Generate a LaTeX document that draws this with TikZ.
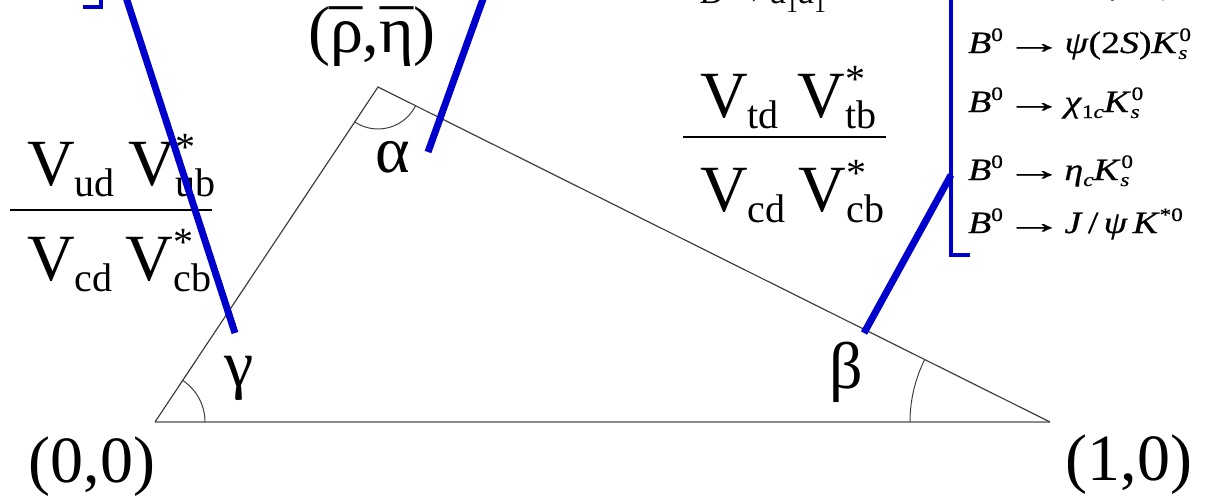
\documentclass[tikz,border=0pt]{standalone}
\usepackage{fontspec}
\setmainfont{Liberation Serif}
\newfontfamily\decayfont{Liberation Serif}[FakeStretch=1.22,FakeBold=0.6]
\definecolor{ckmblue}{RGB}{0,0,205}
% big labels: sub/superscripts
\newcommand{\bsub}[1]{\raisebox{-11pt}{\fontsize{40}{40}\selectfont #1}}
\newcommand{\bsup}[1]{\raisebox{25pt}{\fontsize{40}{40}\selectfont #1}}
\newcommand{\Vsub}[1]{V\bsub{#1}}
\newcommand{\Vstar}[1]{V\rlap{\bsup{*}}\bsub{#1}}
% decay list: sub/superscripts
\newcommand{\dsub}[1]{\raisebox{-6pt}{\fontsize{19}{19}\selectfont #1}}
\newcommand{\dsup}[1]{\raisebox{12pt}{\fontsize{19}{19}\selectfont #1}}
\newcommand{\Kzero}{\textit{K}\rlap{\hspace{1pt}\dsup{0}}\dsub{\textit{s}}}
\newcommand{\Bto}{\textit{B}\dsup{0}\hspace{2pt}\scalebox{1.55}[1]{→}\hspace{1pt}}
\newcommand{\macr}[1]{\ooalign{#1\cr\hidewidth\raisebox{-0.05em}{¯}\hidewidth\cr}}
\begin{document}
\begin{tikzpicture}[x=1pt,y=-1pt,
  big/.style={font=\fontsize{66}{70}\selectfont,inner sep=0pt},
  decay/.style={font=\decayfont\fontsize{31}{34}\selectfont,anchor=base west,inner sep=0pt},
  side/.style={draw=black!75,line width=1.2pt},
  ang/.style={draw=black!75,line width=1pt},
  wire/.style={draw=ckmblue,line width=7pt},
  brk/.style={draw=ckmblue,line width=3.5pt}]
  \clip (0,0) rectangle (1208,501);
  % unitarity triangle
  \coordinate (O) at (155,422);
  \coordinate (P) at (1050,422);
  \coordinate (A) at (378,87);
  \draw[draw=black!45,line width=1.8pt] (O) -- (P);
  \draw[side] (P) -- (A) -- (O);
  \draw[ang] ([shift={(50,0)}]O) arc[start angle=0,end angle=-56.35,radius=50];
  \draw[ang] ([shift={(-23.3,34.95)}]A) arc[start angle=123.65,end angle=26.5,radius=42];
  \draw[ang] ([shift={(-140,0)}]P) arc[start angle=180,end angle=206.5,radius=140];
  \node[big] (orig) at (92,467) {(0,0)};
  \node[big] (unit) at (1129,465) {(1,0)};
  \node[big] (apex) at (372,37) {(\macr{ρ},\macr{η})};
  \node[big] (alpha) at (393,157) {α};
  \node[big] (gamma) at (239,378) {γ};
  \node[big] (beta) at (846,372) {β};
  % side ratios
  \node[big,anchor=base west] (numL) at (27,185) {\Vsub{ud}\hspace{0.2em}\Vstar{ub}};
  \node[big,anchor=base west] (denL) at (27,280) {\Vsub{cd}\hspace{0.2em}\Vstar{cb}};
  \coordinate (barL1) at (10,210);
  \coordinate (barL2) at (212,210);
  \draw[line width=2.5pt] (barL1) -- (barL2);
  \node[big,anchor=base west] (numR) at (700,117) {\Vsub{td}\hspace{0.28em}\Vstar{tb}};
  \node[big,anchor=base west] (denR) at (700,211) {\Vsub{cd}\hspace{0.2em}\Vstar{cb}};
  \coordinate (barR1) at (683,137);
  \coordinate (barR2) at (886,137);
  \draw[line width=2.5pt] (barR1) -- (barR2);
  % decay channels
  \node[font=\fontsize{36}{40}\selectfont,anchor=base west,inner sep=0pt] (dA) at (700,3) {\textit{B}\hspace{8pt}→\hspace{4pt}a\raisebox{-9pt}{\fontsize{24}{24}\selectfont 1}a\raisebox{-9pt}{\fontsize{24}{24}\selectfont 1}};
  \node[decay] (d0) at (968,-6) {\Bto\textit{J}\,/\,\textit{ψ}\,\Kzero};
  \node[decay] (d1) at (968,53) {\Bto\textit{ψ}(2\textit{S})\Kzero};
  \node[decay] (d2) at (968,112) {\Bto\textit{χ}\dsub{1\textit{c}}\Kzero};
  \node[decay] (d3) at (968,180) {\Bto\textit{η}\dsub{\textit{c}}\Kzero};
  \node[decay] (d4) at (968,233) {\Bto\textit{J}\,/\,\textit{ψ}\,\textit{K}\dsup{*0}};
  % blue pointers
  \coordinate (wL1) at (123,-12);
  \coordinate (wL2) at (235,333);
  \coordinate (wM1) at (487,-12);
  \coordinate (wM2) at (428,152);
  \coordinate (wR1) at (864,333);
  \coordinate (wR2) at (951,175);
  \coordinate (bL1) at (101,-10);
  \coordinate (bL2) at (101,7);
  \coordinate (bL3) at (83,7);
  \coordinate (bR1) at (951,-10);
  \coordinate (bR2) at (951,255);
  \coordinate (bR3) at (970,255);
  \draw[wire] (wL1) -- (wL2);
  \draw[wire] (wM1) -- (wM2);
  \draw[wire] (wR1) -- (wR2);
  \draw[brk] (bL1) -- (bL2) -- (bL3);
  \draw[brk] (bR1) -- (bR2) -- (bR3);
\end{tikzpicture}
\end{document}
